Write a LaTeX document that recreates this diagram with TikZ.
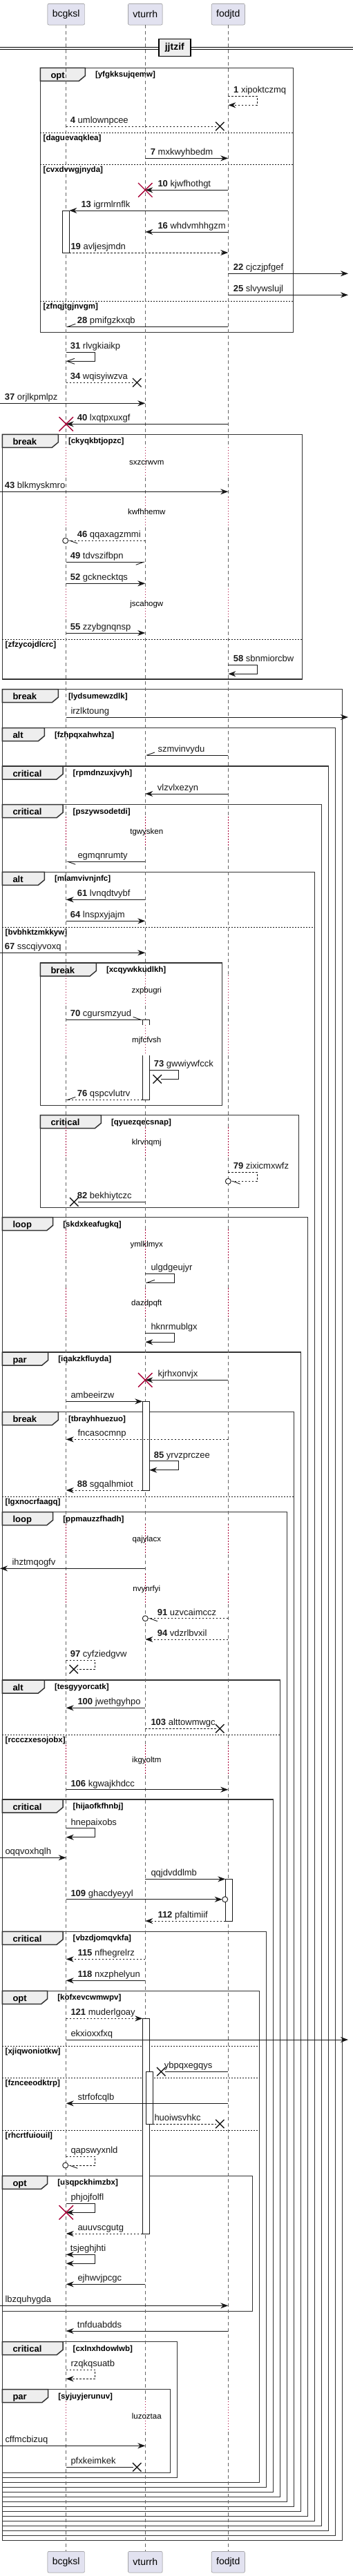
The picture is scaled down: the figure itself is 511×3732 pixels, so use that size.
\documentclass[tikz,border=0pt]{standalone}
\usepackage{fontspec}
\setmainfont{Liberation Sans}
\usepackage{tikz}
\usetikzlibrary{positioning,arrows.meta,shapes.misc}
\definecolor{umlred}{HTML}{A80036}
\definecolor{umlline}{HTML}{181818}
\definecolor{partfill}{HTML}{E2E2F0}
\definecolor{tabfill}{HTML}{EEEEEE}

\newcommand\nb[1]{\textbf{#1}}
\newcommand\sqmsg[6]{%
  \coordinate (ms) at (#3 |- 0,#2);
  \coordinate (mt) at (#4 |- 0,#2);
  \draw[msg,#1] (ms) -- (mt);
  \node[lbl] (ml) at (#5,#2) {#6};}
\newcommand\sqself[6]{%
  \coordinate (ms) at (#3 |- 0,#2);
  \coordinate (mt) at (#4 |- 0,#2+13);
  \draw[msg,#1] (ms) -- ++(42,0) |- (mt);
  \node[lbl] (ml) at (#5,#2) {#6};}
\newcommand\grp[7]{%
  \draw[frm] (#1,#2) rectangle (#3,#4);
  \draw[frm,fill=tabfill] (#1,#2) -- ++(#5,0) -- ++(0,11.5) -- ++(-9,7.5) -- (#1,#2+19) -- cycle;
  \node[kw] (kw) at (#1+15,#2+15) {#6};
  \node[grd] (gd) at (#1+#5+14.5,#2+13.5) {[#7]};}
\newcommand\grpelse[4]{%
  \draw[sep] (#1,#3) -- (#2,#3);
  \node[grd] (gd) at (#1+4.2,#3+11) {[#4]};}

\begin{document}
\begin{tikzpicture}[x=1pt,y=-1pt,
  >={Stealth[length=11pt,width=8pt,inset=3.5pt]},
  part/.style={draw=black!50,fill=partfill,rounded corners=2pt,minimum height=30.7pt,inner xsep=7pt,font=\fontsize{14pt}{16pt}\selectfont},
  life/.style={draw=black!60,line width=0.6pt,dash pattern=on 5pt off 4pt},
  dly/.style={draw=umlred,line width=0.8pt,dash pattern=on 1.2pt off 2.8pt},
  dlytxt/.style={anchor=base,inner sep=0pt,font=\fontsize{11.5pt}{13pt}\selectfont},
  frm/.style={draw=black!80,line width=1.5pt},
  sep/.style={draw=umlline,line width=0.8pt,dash pattern=on 2pt off 2pt},
  kw/.style={anchor=base west,inner sep=0pt,font=\bfseries\fontsize{13pt}{15pt}\selectfont},
  grd/.style={anchor=base west,inner sep=0pt,font=\bfseries\fontsize{11.5pt}{13pt}\selectfont},
  msg/.style={draw=umlline,line width=0.9pt},
  dsh/.style={dash pattern=on 2.5pt off 2.5pt},
  lbl/.style={anchor=base west,inner sep=0pt,yshift=4.6pt,text=umlline,font=\fontsize{13pt}{15pt}\selectfont},
  ha/.style={-{Straight Barb[length=11pt,width=8pt,#1]}},
  ob/.style={-{Straight Barb[length=11pt,width=8pt]}},
  xblk/.style={cross out,draw=umlline,line width=1.4pt,minimum size=11pt,inner sep=0pt},
  xred/.style={cross out,draw=umlred,line width=1.4pt,minimum size=19pt,inner sep=0pt},
  circ/.style={circle,draw=umlline,fill=white,line width=0.9pt,minimum size=8pt,inner sep=0pt},
  act/.style={draw=umlline,fill=white,line width=0.8pt},
  divbox/.style={draw=black,line width=1.5pt,fill=tabfill,minimum width=46pt,minimum height=25pt,inner sep=0pt,font=\bfseries\fontsize{14pt}{16pt}\selectfont}
]
\useasboundingbox (0,0) rectangle (511,3732);

\coordinate (lft) at (0,0);
\coordinate (rgt) at (504,0);
\coordinate (bc) at (95.7,0);
\coordinate (bcR) at (100.3,0);
\coordinate (vt) at (210.3,0);
\coordinate (vtL) at (206.3,0);
\coordinate (vtR) at (216.3,0);
\coordinate (vtR2) at (221.3,0);
\coordinate (fo) at (330.3,0);
\coordinate (foL) at (326.3,0);

\grp{58.3}{98.3}{424.3}{481.7}{65}{opt}{yfgkksujqemw}
\grpelse{58.3}{424.3}{192.3}{daguevaqklea}
\grpelse{58.3}{424.3}{238.3}{cvxdvwgjnyda}
\grpelse{58.3}{424.3}{436.3}{zfnqjtgjnvgm}
\grp{3.3}{629.3}{437.7}{984}{81}{break}{ckyqkbtjopzc}
\grpelse{3.3}{437.7}{926}{zfzycojdlcrc}
\grp{3.3}{998.7}{495.7}{3680.3}{81}{break}{lydsumewzdlk}
\grp{3.3}{1054.7}{485.7}{3673.3}{61}{alt}{fzhpqxahwhza}
\grp{3.3}{1110}{475.7}{3666.3}{87.7}{critical}{rpmdnzuxjvyh}
\grp{3.3}{1165.7}{465.7}{3659.3}{87.7}{critical}{pszywsodetdi}
\grp{3.3}{1263.3}{455.7}{3652.3}{61}{alt}{mlamvivnjnfc}
\grpelse{3.3}{455.7}{1343.3}{bvbhktzmkkyw}
\grp{58.3}{1395}{321.7}{1601.3}{81}{break}{xcqywkkudlkh}
\grp{58.3}{1615.7}{432.3}{1749.3}{88}{critical}{qyuezqecsnap}
\grp{3.3}{1763.7}{445.7}{3645.3}{73.4}{loop}{skdxkeafugkq}
\grp{3.3}{1959}{435.7}{3638.3}{66.4}{par}{iqakzkfluyda}
\grp{3.3}{2045.7}{425.7}{3631.3}{81}{break}{tbrayhhuezuo}
\grpelse{3.3}{425.7}{2168.3}{lgxnocrfaagq}
\grp{3.3}{2190.7}{415.7}{3624.3}{73.4}{loop}{ppmauzzfhadh}
\grp{3.3}{2434}{405.7}{3617.3}{61}{alt}{tesgyyorcatk}
\grpelse{3.3}{405.7}{2513.3}{rccczxesojobx}
\grp{3.3}{2607}{395.7}{3610.3}{87.7}{critical}{hijaofkfhnbj}
\grp{3.3}{2798.3}{385.7}{3603.3}{87.7}{critical}{vbzdjomqvkfa}
\grp{3.3}{2884.3}{375.7}{3596.3}{65.4}{opt}{kofxevcwmwpv}
\grpelse{3.3}{375.7}{2964}{xjiqwoniotkw}
\grpelse{3.3}{375.7}{3010.3}{fznceeodktrp}
\grpelse{3.3}{375.7}{3086}{rhcrtfuiouil}
\grp{3.3}{3152.3}{365.7}{3348.3}{65.4}{opt}{usqpckhimzbx}
\grp{3.3}{3392.7}{256.7}{3589.3}{87.7}{critical}{cxlnxhdowlwb}
\grp{3.3}{3461.7}{246.7}{3582.3}{66.4}{par}{syjuyjerunuv}

\node[part] (bc0) at (bc |- 0,20.7) {bcgksl};
\node[part] (vt0) at (vt |- 0,20.7) {vturrh};
\node[part] (fo0) at (fo |- 0,20.7) {fodjtd};
\node[part] (bc1) at (bc |- 0,3711.7) {bcgksl};
\node[part] (vt1) at (vt |- 0,3711.7) {vturrh};
\node[part] (fo1) at (fo |- 0,3711.7) {fodjtd};

\foreach \p in {bc,vt,fo}{
  \draw[life] (\p0.south) -- (\p |- 0,648);
  \foreach \a/\b in {692/720,764/853,897/1183.3,1227.3/1413,1457/1485,1529/1633.3,1677.3/1781.3,1825.3/1866.3,1910.3/2208.3,2252.3/2280.3,2324.3/2528.3,2572.3/3479}
    \draw[life] (\p |- 0,\a) -- (\p |- 0,\b);
  \draw[life] (\p |- 0,3523) -- (\p1.north);
  \foreach \d in {670,742,875,1205.3,1435,1507,1655.3,1803.3,1888.3,2230.3,2302.3,2550.3,3501}
    \draw[dly] (\p |- 0,\d-22) -- (\p |- 0,\d+22);
}
\foreach \d/\t in {670/sxzcrwvm,742/kwfhhemw,875/jscahogw,1205.3/tgwysken,1435/zxpbugri,1507/mjfcfvsh,1655.3/klrvnqmj,1803.3/ymlklmyx,1888.3/dazdpqft,2230.3/qajylacx,2302.3/nvynrfyi,2550.3/ikgyoltm,3501/luzoztaa}
  \node[dlytxt] (dl) at (212.3,\d+3.5) {\t};

\draw (0,68.6) -- (511,68.6) (0,71.6) -- (511,71.6);
\node[divbox] (dv) at (252.8,69.2) {jjtzif};

\draw[act] (90.3,305) rectangle (100.3,366);
\draw[act] (206.3,1485) -- (206.3,1477.3) -- (216.3,1477.3) -- (216.3,1485);
\draw[act] (206.3,1529) -- (206.3,1593.3) -- (216.3,1593.3) -- (216.3,1529);
\draw[act] (206.3,2030.3) rectangle (216.3,2159);
\draw[act] (326.3,2722.3) rectangle (336.3,2783.3);
\draw[act] (206.3,2924.3) rectangle (216.3,3236);
\draw[act] (211.3,3001.3) rectangle (221.3,3077);

\node[xblk] (x4) at (318.3,183) {};
\node[xblk] (x34) at (198.3,554.3) {};
\node[xblk] (x73) at (227.7,1563.3) {};
\node[xblk] (x82) at (107.3,1741.3) {};
\node[xblk] (x97) at (106.7,2418.3) {};
\node[xblk] (x103) at (318.3,2504.3) {};
\node[xblk] (xyb) at (233.3,3001.3) {};
\node[xblk] (xhu) at (318.3,3077) {};
\node[xblk] (xpf) at (198.3,3574.3) {};
\node[circ] (c46) at (94.7,783.3) {};
\node[circ] (c79) at (330.3,1711.3) {};
\node[circ] (c91) at (210.3,2344.7) {};
\node[circ] (c109) at (325.7,2751.7) {};
\node[circ] (cqa) at (94.7,3137) {};

\sqself{dsh,->}{139.3}{fo}{fo}{338}{\nb{1} xipoktczmq}
\sqmsg{dsh,shorten >=5.5pt}{183}{bc}{x4}{101.7}{\nb{4} umlownpcee}
\sqmsg{->}{229.3}{vt}{fo}{217.7}{\nb{7} mxkwyhbedm}
\sqmsg{->}{275.3}{fo}{vt}{228.3}{\nb{10} kjwfhothgt}
\sqmsg{->}{305}{fo}{bcR}{117.3}{\nb{13} igrmlrnflk}
\sqmsg{->}{336}{fo}{vt}{228.3}{\nb{16} whdvmhhgzm}
\sqmsg{dsh,->}{366}{bcR}{fo}{102.3}{\nb{19} avljesjmdn}
\sqmsg{->}{396.3}{fo}{rgt}{337.7}{\nb{22} cjczjpfgef}
\sqmsg{->}{427.3}{fo}{rgt}{337.7}{\nb{25} slvywslujl}
\sqmsg{ha=right}{473.3}{fo}{bc}{111.7}{\nb{28} pmifgzkxqb}
\sqself{ob}{510.3}{bc}{bc}{101.7}{\nb{31} rlvgkiaikp}
\sqmsg{dsh,shorten >=5.5pt}{554.3}{bc}{x34}{101.7}{\nb{34} wqisyiwzva}
\sqmsg{->}{584.3}{lft}{vt}{6.7}{\nb{37} orjlkpmlpz}
\sqmsg{->}{614.3}{fo}{bc}{111.7}{\nb{40} lxqtpxuxgf}
\sqmsg{->}{712.3}{lft}{fo}{6.7}{\nb{43} blkmyskmro}
\sqmsg{dsh,ha=left,shorten >=4pt}{783.3}{vt}{c46}{111.7}{\nb{46} qqaxagzmmi}
\sqmsg{ha=right}{814.3}{bc}{vt}{101.7}{\nb{49} tdvszifbpn}
\sqmsg{->}{845.3}{bc}{vt}{101.7}{\nb{52} gcknecktqs}
\sqmsg{->}{917}{bc}{vt}{101.7}{\nb{55} zzybgnqnsp}
\sqself{->}{963.3}{fo}{fo}{337.7}{\nb{58} sbnmiorcbw}
\sqmsg{->}{1039}{bc}{rgt}{102.3}{irzlktoung}
\sqmsg{ha=right}{1094}{fo}{vt}{228.3}{szmvinvydu}
\sqmsg{->}{1150}{fo}{vt}{227.7}{vlzvlxezyn}
\sqmsg{ha=left}{1248.3}{vt}{bc}{112.3}{egmqnrumty}
\sqmsg{->}{1303.3}{vt}{bc}{111.7}{\nb{61} lvnqdtvybf}
\sqmsg{->}{1334.3}{bc}{vt}{101.7}{\nb{64} lnspxyjajm}
\sqmsg{->}{1380.3}{lft}{vt}{6.7}{\nb{67} sscqiyvoxq}
\sqmsg{ha=left}{1477.3}{bc}{vtL}{101.7}{\nb{70} cgursmzyud}
\sqself{shorten >=5.5pt}{1550.3}{vtR}{x73}{222.7}{\nb{73} gwwiywfcck}
\sqmsg{dsh,ha=right}{1593.3}{vtL}{bc}{111.7}{\nb{76} qspcvlutrv}
\sqself{dsh,ha=left,shorten >=4pt}{1698.3}{fo}{c79}{337.7}{\nb{79} zixicmxwfz}
\sqmsg{shorten >=5.5pt}{1741.3}{vt}{x82}{111.7}{\nb{82} bekhiytczc}
\sqself{ha=right}{1845.3}{vt}{vt}{218.3}{ulgdgeujyr}
\sqself{->}{1931.3}{vt}{vt}{218.3}{hknrmublgx}
\sqmsg{->}{1999.3}{fo}{vt}{228.3}{kjrhxonvjx}
\sqmsg{->}{2030.3}{bc}{vtL}{102.3}{ambeeirzw}
\sqmsg{dsh,->}{2085.3}{fo}{bc}{112.3}{fncasocmnp}
\sqself{->}{2116.7}{vtR}{vtR}{222.7}{\nb{85} yrvzprczee}
\sqmsg{dsh,->}{2159}{vtL}{bc}{111.7}{\nb{88} sgqalhmiot}
\sqmsg{->}{2272.3}{vt}{lft}{17.3}{ihztmqogfv}
\sqmsg{dsh,ha=left,shorten >=4pt}{2344.7}{fo}{c91}{227.7}{\nb{91} uzvcaimccz}
\sqmsg{dsh,->}{2375}{fo}{vt}{227.7}{\nb{94} vdzrlbvxil}
\sqself{dsh,shorten >=5.5pt}{2405.3}{bc}{x97}{101.7}{\nb{97} cyfziedgvw}
\sqmsg{->}{2474.3}{vt}{bc}{112.3}{\nb{100} jwethgyhpo}
\sqmsg{dsh,shorten >=5.5pt}{2504.3}{vt}{x103}{218.3}{\nb{103} alttowmwgc}
\sqmsg{->}{2592.7}{bc}{fo}{102.3}{\nb{106} kgwajkhdcc}
\sqself{->}{2648.7}{bc}{bc}{102.3}{hnepaixobs}
\sqmsg{->}{2691.3}{lft}{bc}{7.3}{oqqvoxhqlh}
\sqmsg{->}{2722.3}{vt}{foL}{218.3}{qqjdvddlmb}
\sqmsg{->,shorten >=4pt}{2751.7}{bc}{c109}{102.3}{\nb{109} ghacdyeyyl}
\sqmsg{dsh,->}{2783}{foL}{vt}{228.3}{\nb{112} pfaltimiif}
\sqmsg{dsh,->}{2838.3}{vt}{bc}{112.3}{\nb{115} nfhegrelrz}
\sqmsg{->}{2869.3}{vt}{bc}{112.3}{\nb{118} nxzphelyun}
\sqmsg{dsh,->}{2924.3}{bc}{vtL}{102.3}{\nb{121} muderlgoay}
\sqmsg{->}{2955}{bc}{rgt}{102.3}{ekxioxxfxq}
\sqmsg{shorten >=5.5pt}{3001.3}{fo}{xyb}{237.7}{ybpqxegqys}
\sqmsg{->}{3047.3}{fo}{bc}{112.3}{strfofcqlb}
\sqmsg{dsh,shorten >=5.5pt}{3077}{vtR2}{xhu}{223.3}{huoiwsvhkc}
\sqself{dsh,ha=left,shorten >=4pt}{3124.3}{bc}{cqa}{102.3}{qapswyxnld}
\sqself{->}{3192.3}{bc}{bc}{102.3}{phjojfolfl}
\sqmsg{dsh,->}{3236}{vtL}{bc}{112.3}{auuvscgutg}
\sqself{<->}{3266.3}{bc}{bc}{101.7}{tsjeghjhti}
\sqmsg{->}{3309.3}{vt}{bc}{112.3}{ejhwvjpcgc}
\sqmsg{->}{3340.3}{lft}{fo}{7.3}{lbzquhygda}
\sqmsg{->}{3377}{fo}{bc}{111.7}{tnfduabdds}
\sqself{dsh,->}{3433.3}{bc}{bc}{102.3}{rzqkqsuatb}
\sqmsg{->}{3543.3}{lft}{vt}{7.3}{cffmcbizuq}
\sqmsg{shorten >=5.5pt}{3574.3}{bc}{xpf}{102.3}{pfxkeimkek}

\node[xred] (k10) at (vt |- 0,275.3) {};
\node[xred] (k40) at (bc |- 0,614.3) {};
\node[xred] (kjr) at (vt |- 0,1999.3) {};
\node[xred] (kph) at (bc |- 0,3205.3) {};
\end{tikzpicture}
\end{document}
